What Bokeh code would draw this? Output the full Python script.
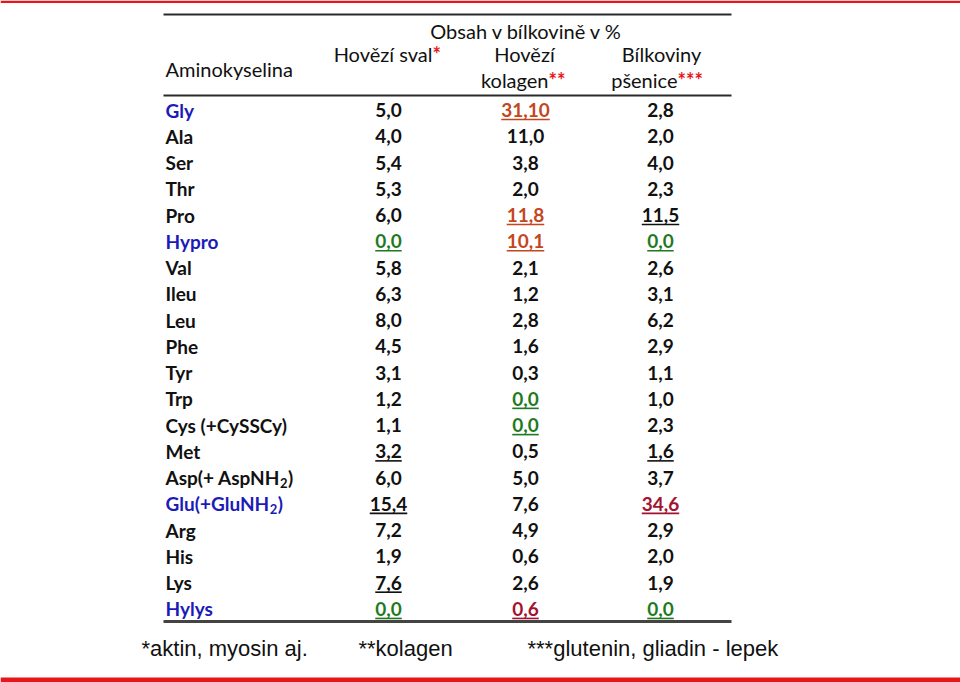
import subprocess
from bokeh.plotting import figure
from bokeh.models import Range1d
from bokeh.core.properties import value
from bokeh.embed import file_html
from bokeh.resources import INLINE

# ---------------- data ----------------
amino = ["Gly", "Ala", "Ser", "Thr", "Pro", "Hypro", "Val", "Ileu", "Leu", "Phe",
         "Tyr", "Trp", "Cys (+CySSCy)", "Met", "Asp(+ AspNH|2|)", "Glu(+GluNH|2|)",
         "Arg", "His", "Lys", "Hylys"]
hovezi_sval = ["5,0", "4,0", "5,4", "5,3", "6,0", "0,0", "5,8", "6,3", "8,0", "4,5",
               "3,1", "1,2", "1,1", "3,2", "6,0", "15,4", "7,2", "1,9", "7,6", "0,0"]
hovezi_kolagen = ["31,10", "11,0", "3,8", "2,0", "11,8", "10,1", "2,1", "1,2", "2,8", "1,6",
                  "0,3", "0,0", "0,0", "0,5", "5,0", "7,6", "4,9", "0,6", "2,6", "0,6"]
bilkoviny_psenice = ["2,8", "2,0", "4,0", "2,3", "11,5", "0,0", "2,6", "3,1", "6,2", "2,9",
                     "1,1", "1,0", "2,3", "1,6", "3,7", "34,6", "2,9", "2,0", "1,9", "0,0"]
blue_labels = ["Gly", "Hypro", "Glu(+GluNH|2|)", "Hylys"]
# emphasis: row label -> (colour key, underline)
emph_sval = {"Hypro": ("g", True), "Met": ("k", True), "Glu(+GluNH|2|)": ("k", True),
             "Lys": ("k", True), "Hylys": ("g", True)}
emph_kolagen = {"Gly": ("o", True), "Pro": ("o", True), "Hypro": ("o", True),
                "Trp": ("g", True), "Cys (+CySSCy)": ("g", True), "Hylys": ("r", True)}
emph_psenice = {"Pro": ("k", True), "Hypro": ("g", True), "Met": ("k", True),
                "Glu(+GluNH|2|)": ("r", True), "Hylys": ("g", True)}
header_title = "Obsah v bílkovině v %"
footnotes = ["*aktin, myosin aj.", "**kolagen", "***glutenin, gliadin - lepek"]

# ---------------- style ----------------
BLACK = "#111111"
BLUE = "#1b1bb8"
COLORS = {"k": BLACK, "g": "#1f7a1f", "o": "#c4461c", "r": "#a3122f"}
RED = "#e8161b"
FONT = "Lato"
FS = 19
HFS = 20
W, H = 960, 682


def measure(txt, size, bold):
    try:
        pat = FONT + (":bold" if bold else "")
        path = subprocess.run(["fc-match", "-f", "%{file}", pat], capture_output=True,
                              text=True).stdout.strip()
        from PIL import ImageFont
        return ImageFont.truetype(path, size).getlength(txt)
    except Exception:
        return len(txt) * size * 0.55


p = figure(width=W, height=H, output_backend="svg", toolbar_location=None,
           x_range=Range1d(0, W), y_range=Range1d(H, 0), min_border=0)
p.axis.visible = False
p.grid.visible = False
p.outline_line_color = None
p.background_fill_color = "white"


def txt(x, y, s, color=BLACK, size=FS, bold=True, align="left", font=FONT):
    p.text(x=[x], y=[y], text=[s], text_color=color, text_font=value(font),
           text_font_size=f"{size}px", text_font_style="bold" if bold else "normal",
           text_align=align, text_baseline="middle")


# red bars
p.quad(left=[0], right=[W], top=[0], bottom=[2.5], fill_color=RED, line_color=None)
p.quad(left=[0], right=[W], top=[H - 5], bottom=[H], fill_color=RED, line_color=None)

# rules
TL, TR = 163, 731
p.segment(x0=[TL], x1=[TR], y0=[14], y1=[14], line_color="#2a2a2a", line_width=2)
p.segment(x0=[TL], x1=[TR], y0=[95], y1=[95], line_color="#2a2a2a", line_width=2)
p.segment(x0=[TL], x1=[TR], y0=[621], y1=[621], line_color="#444444", line_width=3)

# header
txt(526, 30, header_title, align="center", size=HFS, bold=False)
txt(165, 68, "Aminokyselina", size=HFS, bold=False)
txt(432, 53, "Hovězí sval", align="right", size=HFS, bold=False)
txt(432, 53, "*", color=RED, size=HFS)
txt(524, 53, "Hovězí", align="center", size=HFS, bold=False)
txt(548, 79, "kolagen", align="right", size=HFS, bold=False)
txt(548, 79, "**", color=RED, size=HFS)
txt(661, 53, "Bílkoviny", align="center", size=HFS, bold=False)
txt(677, 79, "pšenice", align="right", size=HFS, bold=False)
txt(677, 79, "***", color=RED, size=HFS)

# body
Y0, DY = 109.5, 26.26
COLS = [(388, hovezi_sval, emph_sval), (525, hovezi_kolagen, emph_kolagen),
        (660, bilkoviny_psenice, emph_psenice)]
for i, lab in enumerate(amino):
    yc = Y0 + i * DY
    col = BLUE if lab in blue_labels else BLACK
    if "|" in lab:
        main, sub, tail = lab.split("|")
        wm = measure(main, FS, True)
        txt(165, yc, main, color=col)
        txt(165 + wm + 0.5, yc + 5, sub, color=col, size=13)
        ws = measure(sub, 13, True)
        txt(165 + wm + ws + 1, yc, tail, color=col)
    else:
        txt(165, yc, lab, color=col)
    for cx, vals, emph in COLS:
        s = vals[i]
        ckey, und = emph.get(lab, ("k", False))
        c = COLORS[ckey]
        txt(cx, yc, s, color=c, align="center")
        if und:
            w = measure(s, FS, True)
            p.segment(x0=[cx - w / 2], x1=[cx + w / 2], y0=[yc + 9.5], y1=[yc + 9.5],
                      line_color=c, line_width=1.6)

# footnotes
FN_FONT = "Liberation Sans"
txt(141, 648, footnotes[0], bold=False, size=22, font=FN_FONT)
txt(358, 648, footnotes[1], bold=False, size=22, font=FN_FONT)
txt(527, 648, footnotes[2], bold=False, size=22, font=FN_FONT)

open("out.html", "w").write(file_html(p, INLINE))
